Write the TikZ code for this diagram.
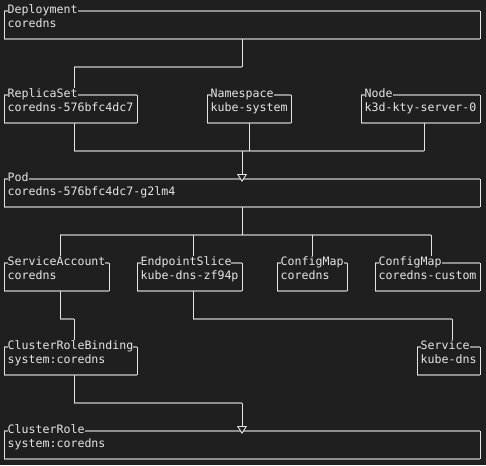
\documentclass[tikz,border=0pt]{standalone}
\usepackage{fontspec}
\setmonofont{DejaVu Sans Mono}
\usetikzlibrary{arrows.meta}
\definecolor{bg}{HTML}{1F1F1F}
\definecolor{hlgrey}{HTML}{8E8E8E}
\definecolor{vlwhite}{HTML}{E4E4E4}
\definecolor{txt}{HTML}{E6E6E6}
\def\objs{dep/0/0/68/Deployment/coredns,
  rs/0/6/19/ReplicaSet/coredns-576bfc4dc7,
  ns/29/6/12/Namespace/kube-system,
  nd/51/6/17/Node/k3d-kty-server-0,
  pod/0/12/68/Pod/coredns-576bfc4dc7-g2lm4,
  sa/0/18/15/ServiceAccount/coredns,
  eps/19/18/15/EndpointSlice/kube-dns-zf94p,
  cm/39/18/10/ConfigMap/coredns,
  cmc/53/18/15/ConfigMap/coredns-custom,
  crb/0/24/19/ClusterRoleBinding/system:coredns,
  svc/59/24/9/Service/kube-dns,
  cr/0/30/68/ClusterRole/system:coredns}
\begin{document}
\begin{tikzpicture}[x=7pt,y=-14pt,
  font=\ttfamily\fontsize{11.6pt}{14pt}\selectfont,
  hl/.style={draw=hlgrey,line width=1.8pt},
  vl/.style={draw=vlwhite,line width=0.9pt},
  kbox/.style={draw=none,inner sep=0pt,outer sep=0pt,minimum height=28pt,anchor=north west},
  kind/.style={fill=bg,text=txt,inner xsep=0pt,inner ysep=.4pt,anchor=base west},
  val/.style={text=txt,inner sep=0pt,anchor=base west},
  owns/.style={-{Triangle[length=8pt,width=10pt,fill=bg]},shorten >=-3pt}]
\fill[bg] (-4/7,-11/14) rectangle (482/7,454/14);
\foreach \bn/\bc/\br/\bw/\bk/\bv in \objs {
  \pgfmathtruncatemacro\bp{\bc+ceil(\bw/2)}
  \node[kbox,minimum width=\bw*7pt] (\bn) at (\bc,\br) {};
  \draw[hl] (\bn.north west) -- (\bn.north east) (\bn.south west) -- (\bn.south east);
  \draw[vl] (\bn.north west) -- (\bn.south west) (\bn.north east) -- (\bn.south east);
  \coordinate (T\bn) at (\bp,\br);
  \coordinate (B\bn) at (\bp,\br+2);
}
\coordinate (r4) at (0,4);
\coordinate (r10) at (0,10);
\coordinate (r16) at (0,16);
\coordinate (r22) at (0,22);
\coordinate (r28) at (0,28);
\draw[hl] (Bdep |- r4) -- (Trs |- r4);
\draw[vl] (Bdep) -- (Bdep |- r4) (Trs |- r4) -- (Trs);
\draw[hl] (Brs |- r10) -- (Bnd |- r10);
\draw[vl] (Brs) -- (Brs |- r10) (Bns) -- (Bns |- r10) (Bnd) -- (Bnd |- r10);
\draw[vl,owns] (Tpod |- r10) -- (Tpod);
\draw[hl] (Tsa |- r16) -- (Tcmc |- r16);
\draw[vl] (Bpod) -- (Bpod |- r16) (Tsa |- r16) -- (Tsa) (Teps |- r16) -- (Teps)
  (Tcm |- r16) -- (Tcm) (Tcmc |- r16) -- (Tcmc);
\draw[hl] (Bsa |- r22) -- (Tcrb |- r22);
\draw[vl] (Bsa) -- (Bsa |- r22) (Tcrb |- r22) -- (Tcrb);
\draw[hl] (Beps |- r22) -- (Tsvc |- r22);
\draw[vl] (Beps) -- (Beps |- r22) (Tsvc |- r22) -- (Tsvc);
\draw[hl] (Bcrb |- r28) -- (Tcr |- r28);
\draw[vl] (Bcrb) -- (Bcrb |- r28);
\draw[vl,owns] (Tcr |- r28) -- (Tcr);
\foreach \bn/\bc/\br/\bw/\bk/\bv in \objs {
  \node[kind] (\bn-kind) at (\bc+.5,\br+.18) {\bk};
  \node[val] (\bn-val) at (\bc+.5,\br+1.18) {\bv};
}
\end{tikzpicture}
\end{document}
